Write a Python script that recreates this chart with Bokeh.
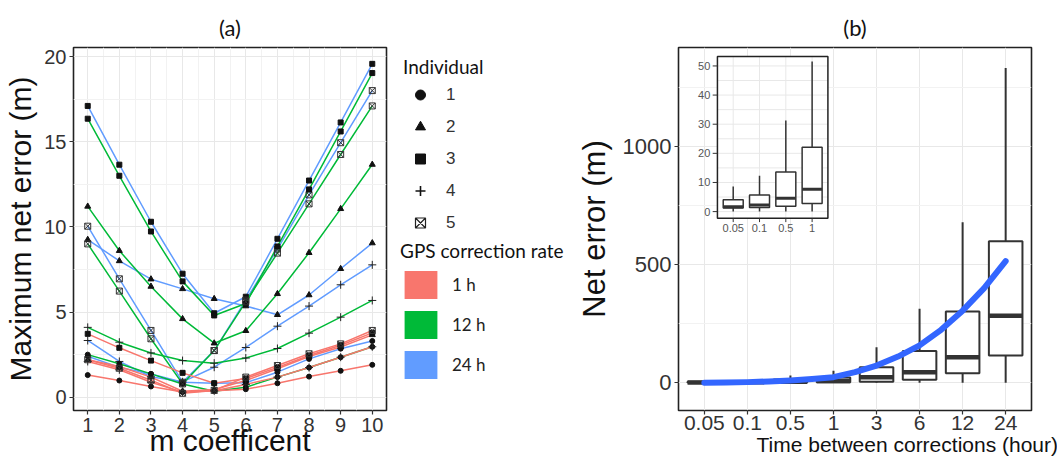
import numpy as np
from bokeh.plotting import figure
from bokeh.layouts import row
from bokeh.models import FixedTicker, Legend, LegendItem, Title, Range1d
from bokeh.embed import file_html
from bokeh.resources import INLINE
from bokeh.core.properties import value

# ---------------- Panel (a) data ----------------
m_coef = [1, 2, 3, 4, 5, 6, 7, 8, 9, 10]
individuals = ["1", "2", "3", "4", "5"]
ind_markers = ["circle", "triangle", "square", "cross", "square_x"]
rates = ["1 h", "12 h", "24 h"]
rate_colors = ["#F8766D", "#00BA38", "#619CFF"]

# 1 h correction rate
h1_ind1 = [1.3, 0.98, 0.63, 0.30, 0.38, 0.47, 0.82, 1.21, 1.55, 1.90]
h1_ind2 = [2.2, 1.80, 1.18, 0.35, 0.45, 0.98, 1.67, 2.39, 2.95, 3.66]
h1_ind3 = [3.72, 2.90, 2.15, 1.43, 0.82, 1.10, 1.75, 2.45, 3.05, 3.78]
h1_ind4 = [2.1, 1.61, 0.88, 0.30, 0.38, 0.75, 1.18, 1.74, 2.35, 2.96]
h1_ind5 = [2.2, 1.70, 1.00, 0.23, 0.40, 1.18, 1.86, 2.55, 3.13, 3.92]
# 12 h correction rate
h12_ind1 = [2.5, 1.96, 1.37, 0.78, 0.35, 0.59, 1.18, 1.74, 2.35, 2.96]
h12_ind2 = [11.2, 8.6, 6.5, 4.6, 3.17, 3.9, 6.07, 8.48, 11.06, 13.66]
h12_ind3 = [16.35, 13.0, 9.73, 6.8, 4.8, 5.5, 8.85, 12.2, 15.6, 19.03]
h12_ind4 = [4.1, 3.23, 2.6, 2.15, 2.0, 2.3, 2.86, 3.76, 4.7, 5.68]
h12_ind5 = [9.0, 6.23, 3.43, 0.78, 2.74, 5.6, 8.46, 11.35, 14.25, 17.1]
# 24 h correction rate
h24_ind1 = [2.4, 1.75, 1.37, 0.88, 0.82, 0.85, 1.47, 2.25, 2.85, 3.3]
h24_ind2 = [9.25, 8.0, 6.93, 6.36, 5.78, 5.35, 4.84, 6.0, 7.54, 9.05]
h24_ind3 = [17.1, 13.65, 10.3, 7.25, 4.93, 5.9, 9.3, 12.72, 16.13, 19.57]
h24_ind4 = [3.33, 2.1, 1.2, 0.9, 1.76, 2.92, 4.17, 5.35, 6.6, 7.77]
h24_ind5 = [10.04, 6.95, 3.92, 0.88, 2.74, 5.7, 8.7, 11.88, 14.94, 18.0]

a_y_ticks = [0, 5, 10, 15, 20]
a_y_minor = [2.5, 7.5, 12.5, 17.5]

# ---------------- Panel (b) data ----------------
time_cats = ["0.05", "0.1", "0.5", "1", "3", "6", "12", "24"]
box_low = [0, 0, 0, 0, 0, 0, 0, 0]
box_q1 = [1.2, 1.4, 1.8, 2.8, 5, 13, 41, 115]
box_med = [1.7, 2.3, 4.6, 7.7, 24, 45, 108, 284]
box_q3 = [4.1, 5.7, 13.6, 22.1, 66, 134, 301, 598]
box_high = [8.6, 12.3, 31.3, 51.5, 150, 313, 679, 1330]
fit_pos = [0, 0.5, 1, 1.5, 2, 2.5, 3, 3.5, 4, 4.5, 5, 5.5, 6, 6.5, 7]
fit_val = [0, 1, 3, 6, 10, 16, 24, 45, 73, 111, 158, 224, 305, 400, 514]
b_y_ticks = [0, 500, 1000]
b_y_minor = [250, 750, 1250]
inset_cats = time_cats[:4]
inset_y_ticks = [0, 10, 20, 30, 40, 50]
inset_y_minor = [5, 15, 25, 35, 45]

# ---------------- styles ----------------
AX_FONT = "Liberation Sans"
TXT_FONT = "Lato"
GRID = "#E8E8E8"
GRID_MINOR = "#F2F2F2"
FRAME = "#222222"
BOXC = "#333333"
TOP, BOTTOM = 47, 53


def style_axes(p, tick_size, label_size):
    for ax in p.axis:
        ax.axis_line_color = None
        ax.major_tick_line_color = "#333333"
        ax.major_tick_line_width = 1.2
        ax.major_tick_out = 4
        ax.major_tick_in = 0
        ax.minor_tick_line_color = None
        ax.major_label_standoff = 3
        ax.major_label_text_font = AX_FONT
        ax.major_label_text_font_size = tick_size
        ax.major_label_text_color = "#333333"
        ax.axis_label_text_font = AX_FONT
        ax.axis_label_text_font_style = "normal"
        ax.axis_label_text_font_size = label_size
        ax.axis_label_text_color = "#111111"
    p.outline_line_color = FRAME
    p.outline_line_width = 1.6
    p.xgrid.grid_line_color = GRID
    p.ygrid.grid_line_color = GRID
    p.xgrid.minor_grid_line_color = GRID_MINOR
    p.ygrid.minor_grid_line_color = GRID_MINOR


def style_title(t, offset=0):
    t.align = "center"
    t.offset = offset
    t.standoff = 14
    t.text_font = TXT_FONT
    t.text_font_size = "22px"
    t.text_font_style = "normal"
    t.text_color = "#111111"


# ---------------- Panel (a) ----------------
pa = figure(width=395, height=463, x_range=Range1d(0.55, 10.45), y_range=Range1d(-0.78, 20.53),
            toolbar_location=None, output_backend="svg",
            min_border_left=73, min_border_right=9, min_border_top=TOP, min_border_bottom=BOTTOM)
pa.title.text = "(a)"
style_title(pa.title)
pa.xaxis.ticker = FixedTicker(ticks=m_coef, minor_ticks=[v + 0.5 for v in m_coef[:-1]])
pa.yaxis.ticker = FixedTicker(ticks=a_y_ticks, minor_ticks=a_y_minor)
style_axes(pa, "20px", "30px")
pa.xaxis.axis_label = "m coefficent"
pa.xaxis.axis_label_standoff = -11
pa.yaxis.axis_label = "Maximum net error (m)"
pa.yaxis.axis_label_standoff = 4

series = [
    (rate_colors[2], [h24_ind1, h24_ind2, h24_ind3, h24_ind4, h24_ind5]),
    (rate_colors[1], [h12_ind1, h12_ind2, h12_ind3, h12_ind4, h12_ind5]),
    (rate_colors[0], [h1_ind1, h1_ind2, h1_ind3, h1_ind4, h1_ind5]),
]
for col, group in series:
    for vals in group:
        pa.line(m_coef, vals, line_color=col, line_width=1.5)
marker_sizes = {"circle": 5, "triangle": 6, "square": 5, "cross": 8, "square_x": 6}
for col, group in series:
    for mk, vals in zip(ind_markers, group):
        if mk == "square_x":
            pa.scatter(m_coef, vals, marker=mk, size=marker_sizes[mk], fill_color=None,
                       line_color="#333333", line_width=1)
        elif mk == "cross":
            pa.scatter(m_coef, vals, marker=mk, size=marker_sizes[mk], line_color="#222222", line_width=1)
        else:
            pa.scatter(m_coef, vals, marker=mk, size=marker_sizes[mk], color="#111111")

# ---------------- Legend panel ----------------
leg = figure(width=175, height=463, x_range=Range1d(0, 1), y_range=Range1d(0, 1),
             toolbar_location=None, output_backend="svg",
             min_border_left=0, min_border_right=0, min_border_top=TOP, min_border_bottom=BOTTOM,
             x_axis_location=None, y_axis_location=None, outline_line_color=None)
leg.grid.visible = False
# legend-only renderers: one off-range point each so the legend can draw their glyphs
off = dict(x=[-5], y=[-5])
ind_items = []
for lab, mk in zip(individuals, ind_markers):
    if mk == "square_x":
        r = leg.scatter(marker=mk, size=10, fill_color=None, line_color="#222222", line_width=1.2, **off)
    elif mk == "cross":
        r = leg.scatter(marker=mk, size=10, line_color="#111111", line_width=1.6, **off)
    else:
        r = leg.scatter(marker=mk, size=10, color="#111111", **off)
    ind_items.append(LegendItem(label=lab, renderers=[r]))
rate_items = []
for lab, col in zip(rates, rate_colors):
    r = leg.quad(left=[-5], right=[-4], top=[-4], bottom=[-5], fill_color=col, line_color=None)
    rate_items.append(LegendItem(label=lab, renderers=[r]))

frame_bottom = 463 - BOTTOM
lg1 = Legend(items=ind_items, title="Individual", location=(8, frame_bottom - 235), orientation="vertical",
             glyph_width=34, glyph_height=25, label_height=25, spacing=7, label_standoff=9,
             padding=0, margin=0, border_line_color=None, background_fill_alpha=0,
             title_text_font=TXT_FONT, title_text_font_size="19px", title_text_font_style="normal",
             title_text_color="#111111", title_standoff=4,
             label_text_font=AX_FONT, label_text_font_size="17px", label_text_color="#333333")
lg2 = Legend(items=rate_items, title="GPS correction rate", location=(5, frame_bottom - 382),
             orientation="vertical",
             glyph_width=41, glyph_height=35, label_height=35, spacing=5, label_standoff=11,
             padding=0, margin=0, border_line_color=None, background_fill_alpha=0,
             title_text_font=TXT_FONT, title_text_font_size="19px", title_text_font_style="normal",
             title_text_color="#111111", title_standoff=5,
             label_text_font=TXT_FONT, label_text_font_size="17px", label_text_color="#222222")
leg.add_layout(lg1)
leg.add_layout(lg2)

# ---------------- Panel (b) ----------------
idx = np.arange(len(time_cats))
pb = figure(width=487, height=463, x_range=Range1d(-0.6, 7.6), y_range=Range1d(-116.9, 1417),
            toolbar_location=None, output_backend="svg",
            min_border_left=108, min_border_right=26, min_border_top=TOP, min_border_bottom=BOTTOM)
pb.extra_x_ranges = {"ix": Range1d(-2.08, 11.34)}
pb.extra_y_ranges = {"iy": Range1d(-68.27, 56.33)}
pb.title.text = "(b)"
style_title(pb.title, 10)
pb.xaxis.ticker = FixedTicker(ticks=list(idx))
pb.xaxis.major_label_overrides = {int(i): c for i, c in zip(idx, time_cats)}
pb.yaxis.ticker = FixedTicker(ticks=b_y_ticks, minor_ticks=b_y_minor)
style_axes(pb, "21px", "31px")
pb.xaxis.major_label_standoff = 1
pb.yaxis.major_label_text_font_size = "22px"
pb.yaxis.axis_label = "Net error (m)"
pb.yaxis.axis_label_standoff = 8
pb.add_layout(Title(text="Time between corrections (hour)", align="left", offset=78,
                    text_font=AX_FONT, text_font_size="21px", text_font_style="normal",
                    text_color="#111111", standoff=-3), "below")

BW = 0.78
pb.segment(x0=idx, y0=box_q3, x1=idx, y1=box_high, line_color=BOXC, line_width=2)
pb.segment(x0=idx, y0=box_low, x1=idx, y1=box_q1, line_color=BOXC, line_width=2)
pb.vbar(x=idx, width=BW, bottom=box_q1, top=box_q3, fill_color="white", line_color=BOXC, line_width=2)
pb.segment(x0=idx - BW / 2, y0=box_med, x1=idx + BW / 2, y1=box_med, line_color=BOXC, line_width=4.5)
pb.line(fit_pos, fit_val, line_color="#3366FF", line_width=6, line_cap="round", line_join="round")

# inset (its own ranges mapped into a sub-area of panel b)
ix0, ix1 = -0.6, 3.6
iy0, iy1 = -2.3, 53.2
iidx = np.arange(len(inset_cats))
kw = dict(x_range_name="ix", y_range_name="iy")
pb.quad(left=[ix0], right=[ix1], bottom=[iy0], top=[iy1], fill_color="white", line_color=None, **kw)
gy = inset_y_ticks + inset_y_minor
pb.segment(x0=[ix0] * len(gy), x1=[ix1] * len(gy), y0=gy, y1=gy, line_color=GRID, line_width=1, **kw)
pb.segment(x0=iidx, x1=iidx, y0=[iy0] * len(iidx), y1=[iy1] * len(iidx), line_color=GRID, line_width=1, **kw)
n4 = len(inset_cats)
pb.segment(x0=iidx, y0=box_q3[:n4], x1=iidx, y1=box_high[:n4], line_color=BOXC, line_width=1.5, **kw)
pb.segment(x0=iidx, y0=box_low[:n4], x1=iidx, y1=box_q1[:n4], line_color=BOXC, line_width=1.5, **kw)
pb.vbar(x=iidx, width=0.76, bottom=box_q1[:n4], top=box_q3[:n4], fill_color="white",
        line_color=BOXC, line_width=1.5, **kw)
pb.segment(x0=iidx - 0.38, y0=box_med[:n4], x1=iidx + 0.38, y1=box_med[:n4], line_color=BOXC,
           line_width=3, **kw)
pb.quad(left=[ix0], right=[ix1], bottom=[iy0], top=[iy1], fill_color=None, line_color=FRAME,
        line_width=1.5, **kw)
# inset ticks and labels
pb.segment(x0=[ix0 - 0.18] * len(inset_y_ticks), x1=[ix0] * len(inset_y_ticks), y0=inset_y_ticks,
           y1=inset_y_ticks, line_color="#333333", line_width=1, **kw)
pb.segment(x0=iidx, x1=iidx, y0=[iy0 - 1.3] * n4, y1=[iy0] * n4, line_color="#333333", line_width=1, **kw)
pb.text(x=[ix0 - 0.27] * len(inset_y_ticks), y=inset_y_ticks, text=[str(v) for v in inset_y_ticks],
        text_align="right", text_baseline="middle", text_font=value(AX_FONT), text_font_size="11px",
        text_color="#555555", **kw)
pb.text(x=iidx, y=[iy0 - 1.9] * n4, text=inset_cats, text_align="center", text_baseline="top",
        text_font=value(AX_FONT), text_font_size="11px", text_color="#555555", **kw)

layout = row(pa, leg, pb, spacing=0)
open("out.html", "w").write(file_html(layout, INLINE))
